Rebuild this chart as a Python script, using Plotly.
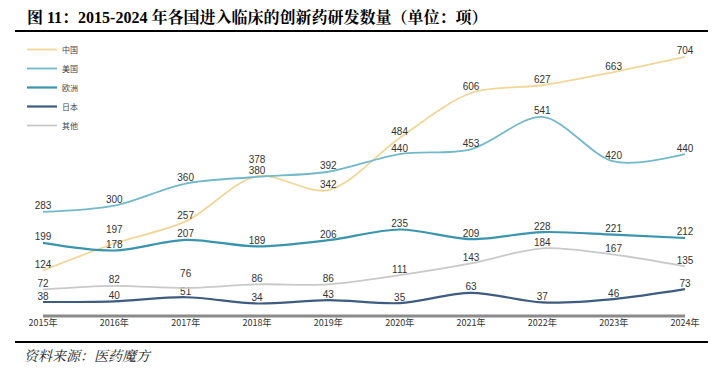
import plotly.graph_objects as go

years = ["2015年", "2016年", "2017年", "2018年", "2019年", "2020年", "2021年", "2022年", "2023年", "2024年"]
china = [124, 197, 257, 380, 342, 484, 606, 627, 663, 704]
usa = [283, 300, 360, 378, 392, 440, 453, 541, 420, 440]
europe = [199, 178, 207, 189, 206, 235, 209, 228, 221, 212]
japan = [38, 40, 51, 34, 43, 35, 63, 37, 46, 73]
others = [72, 82, 76, 86, 86, 111, 143, 184, 167, 135]

# labels that sit higher in the reference to avoid collisions: (series, index) -> lift size
raised = {("美国", 3): 9, ("中国", 1): 7, ("其他", 2): 7}

series = [
    ("中国", china, "#F2D699", 1.8),
    ("美国", usa, "#72B8CA", 1.8),
    ("欧洲", europe, "#3994AE", 2.2),
    ("日本", japan, "#3E5C7F", 2.2),
    ("其他", others, "#C9C9C9", 1.8),
]

fig = go.Figure()
for name, vals, color, w in series:
    texts, sizes = [], []
    for i, v in enumerate(vals):
        if (name, i) in raised:
            texts.append("<span style='font-size:10px'>%d</span><br> " % v)
            sizes.append(raised[(name, i)])
        else:
            texts.append(str(v))
            sizes.append(10)
    fig.add_trace(go.Scatter(
        x=list(range(len(years))), y=vals, name=name,
        mode="lines+text", text=texts,
        textposition="top center",
        textfont=dict(size=sizes, color="#333333", family="Liberation Sans Narrow, Arial Narrow, Liberation Sans"),
        line=dict(color=color, width=w, shape="spline", smoothing=0.9),
        cliponaxis=False,
    ))

# page body has an 8px margin; work in screen pixels and convert
OFF = 8
FW, FH = 716 - OFF, 375 - OFF
L, R, T, B = 43 - OFF, 685 - OFF, 40 - OFF, 316 - OFF
W, H = R - L, B - T
def px(sx):
    return (sx - OFF - L) / W
def py(sy):
    return (B - (sy - OFF)) / H

fig.update_layout(
    width=FW, height=FH,
    margin=dict(l=L, r=FW - R, t=T, b=FH - B),
    paper_bgcolor="white", plot_bgcolor="white",
    showlegend=True,
    legend=dict(x=px(22), y=py(35), xanchor="left", yanchor="top",
                font=dict(size=8, color="#444444", family="Noto Sans CJK SC"),
                itemwidth=30, tracegroupgap=0, bgcolor="rgba(0,0,0,0)"),
    xaxis=dict(range=[0, 9], tickmode="array", tickvals=list(range(len(years))),
               ticktext=years, showgrid=False, zeroline=False,
               showline=False, ticks="",
               tickfont=dict(size=9, color="#333333", family="Liberation Sans Narrow, Noto Sans CJK SC")),
    yaxis=dict(range=[0, 750], showgrid=False, zeroline=False, showticklabels=False,
               showline=False, ticks=""),
    shapes=[
        dict(type="line", xref="paper", yref="paper", x0=px(15), x1=px(712), y0=py(31), y1=py(31),
             line=dict(color="black", width=2)),
        dict(type="line", xref="paper", yref="paper", x0=px(15), x1=px(712), y0=py(342), y1=py(342),
             line=dict(color="black", width=2)),
        dict(type="line", xref="x", yref="paper", x0=0, x1=9, y0=0, y1=0,
             line=dict(color="#8A8A8A", width=3)),
    ],
    annotations=[
        dict(text="<b>图 11：2015-2024 年各国进入临床的创新药研发数量（单位：项）</b>",
             xref="paper", yref="paper", x=px(25), y=py(17), xanchor="left", yanchor="middle",
             showarrow=False, font=dict(size=16, color="black", family="Liberation Serif, Noto Serif CJK SC, Noto Sans CJK SC")),
        dict(text="<i>资料来源：医药魔方</i>",
             xref="paper", yref="paper", x=px(22), y=py(355), xanchor="left", yanchor="middle",
             showarrow=False, font=dict(size=14, color="#222222", family="Noto Serif CJK SC, Noto Sans CJK SC")),
    ],
)

fig.write_html("out.html")
